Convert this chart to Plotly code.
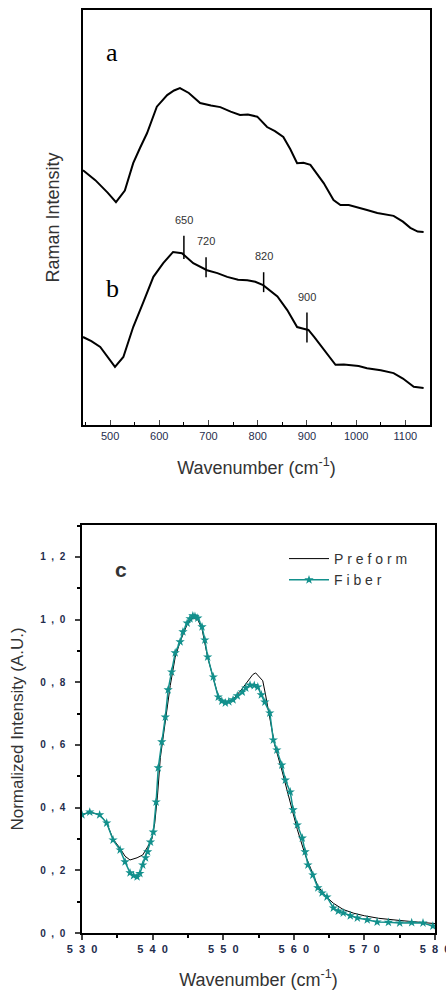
import numpy as np
import plotly.graph_objects as go

# ---------------- Panel a / b : Raman spectra ----------------
wn_a = [445, 470, 495, 512, 530, 547, 561, 575, 595, 616, 630, 642, 660, 683, 705, 724, 745, 764,
        780, 799, 819, 835, 852, 866, 880, 893, 907, 920, 934, 954, 968, 985, 1002, 1022, 1043,
        1060, 1076, 1095, 1110, 1125, 1137]
int_a = [0.614, 0.590, 0.560, 0.537, 0.565, 0.631, 0.668, 0.703, 0.767, 0.795, 0.806, 0.812, 0.800,
         0.776, 0.770, 0.766, 0.755, 0.747, 0.748, 0.743, 0.718, 0.708, 0.694, 0.665, 0.631, 0.632,
         0.627, 0.605, 0.583, 0.542, 0.530, 0.530, 0.525, 0.518, 0.511, 0.508, 0.504, 0.490, 0.475,
         0.466, 0.465]

wn_b = [445, 462, 480, 495, 510, 527, 547, 567, 588, 608, 628, 646, 669, 697, 718, 738, 760, 779,
        795, 811, 825, 840, 860, 880, 893, 903, 915, 927, 947, 958, 975, 988, 1005, 1022, 1050,
        1076, 1095, 1117, 1137]
int_b = [0.212, 0.202, 0.188, 0.165, 0.140, 0.164, 0.236, 0.294, 0.357, 0.390, 0.417, 0.414, 0.390,
         0.373, 0.366, 0.357, 0.350, 0.349, 0.345, 0.337, 0.325, 0.310, 0.277, 0.236, 0.232, 0.229,
         0.212, 0.193, 0.164, 0.145, 0.146, 0.145, 0.142, 0.137, 0.132, 0.125, 0.112, 0.092, 0.089]

peak_pos = [650, 695, 812, 900]
peak_labels = ["650", "720", "820", "900"]
peak_lift = [0.018, 0.006, 0.008, 0.005]
peak_half = [0.028, 0.024, 0.024, 0.036]

# ---------------- Panel c : normalized spectra ----------------
wn_fiber = [530.0, 531.1, 532.5, 533.5, 534.4, 535.4, 536.1, 536.8, 537.3, 537.8, 538.2, 538.6, 539.0,
            539.3, 539.7, 540.1, 540.5, 540.8, 541.3, 541.8, 542.2, 542.7, 543.2, 543.9, 544.3,
            544.9, 545.3, 545.7, 546.0, 546.4, 547.0, 547.4, 547.8, 548.6, 549.3, 549.8, 550.3,
            550.8, 551.4, 552.0, 552.7, 553.2, 553.8, 554.4, 554.9, 555.4, 555.9, 556.6, 557.1,
            557.6, 558.3, 558.8, 559.5, 559.9, 560.5, 561.2, 561.6, 562.0, 562.7, 563.4, 564.0,
            564.7, 565.6, 566.3, 567.0, 568.0, 569.0, 570.4, 571.8, 573.4, 575.0, 576.7, 578.3, 579.7]
int_fiber = [0.377, 0.386, 0.377, 0.351, 0.297, 0.265, 0.227, 0.192, 0.183, 0.179, 0.190, 0.217, 0.240,
             0.259, 0.290, 0.322, 0.418, 0.527, 0.610, 0.689, 0.776, 0.833, 0.894, 0.929, 0.961,
             0.989, 1.003, 1.012, 1.010, 1.005, 0.977, 0.935, 0.881, 0.817, 0.753, 0.740, 0.734,
             0.738, 0.744, 0.757, 0.769, 0.782, 0.791, 0.790, 0.785, 0.760, 0.737, 0.702, 0.616,
             0.584, 0.536, 0.488, 0.450, 0.393, 0.345, 0.303, 0.259, 0.217, 0.185, 0.144, 0.128,
             0.115, 0.080, 0.070, 0.064, 0.055, 0.048, 0.042, 0.035, 0.034, 0.032, 0.033, 0.032, 0.022]

wn_pref = [530.0, 531.1, 532.5, 533.5, 534.4, 535.4, 536.1, 536.8, 537.8, 538.6, 539.3, 539.9, 540.3,
           540.7, 541.1, 541.8, 542.5, 543.2, 543.9, 544.9, 545.7, 546.4, 547.0, 547.8, 548.6,
           549.3, 550.3, 551.4, 552.7, 553.8, 554.2, 554.6, 555.6, 556.0, 556.6, 557.3, 558.3,
           559.5, 560.5, 561.6, 562.7, 563.4, 564.5, 565.6, 567.0, 568.5, 570.0, 572.0, 575.0,
           578.0, 580.0]
int_pref = [0.377, 0.386, 0.377, 0.351, 0.300, 0.270, 0.245, 0.233, 0.240, 0.249, 0.275, 0.300, 0.350,
            0.440, 0.560, 0.680, 0.790, 0.880, 0.930, 0.985, 1.005, 1.000, 0.970, 0.880, 0.810,
            0.755, 0.735, 0.745, 0.780, 0.815, 0.825, 0.830, 0.805, 0.760, 0.690, 0.600, 0.520,
            0.420, 0.330, 0.250, 0.190, 0.150, 0.118, 0.095, 0.075, 0.063, 0.055, 0.047, 0.040,
            0.035, 0.030]

y_ticks_c = [0.0, 0.2, 0.4, 0.6, 0.8, 1.0, 1.2]
y_ticktext_c = ["0,0", "0,2", "0,4", "0,6", "0,8", "1,0", "1,2"]
x_ticks_c = [530, 540, 550, 560, 570, 580]
x_ticks_ab = [500, 600, 700, 800, 900, 1000, 1100]

TEAL = "#12908c"
TXT = "#333333"
TICKTXT = "#1f2d4d"
NB = "\u00a0"

def spaced(s, sep=NB):
    return sep.join(list(s))

fig = go.Figure()
fig.add_trace(go.Scatter(x=wn_a, y=int_a, mode="lines", line=dict(color="black", width=2),
                         xaxis="x", yaxis="y", showlegend=False))
fig.add_trace(go.Scatter(x=wn_b, y=int_b, mode="lines", line=dict(color="black", width=2),
                         xaxis="x", yaxis="y", showlegend=False))
fig.add_trace(go.Scatter(x=wn_pref, y=int_pref, mode="lines", name=spaced("Preform"),
                         line=dict(color="black", width=1), xaxis="x2", yaxis="y2"))
fig.add_trace(go.Scatter(x=wn_fiber, y=int_fiber, mode="lines+markers", name=spaced("Fiber"),
                         line=dict(color=TEAL, width=1.5),
                         marker=dict(symbol="star", size=7, color=TEAL),
                         xaxis="x2", yaxis="y2"))

# peak markers on spectrum b
for pos, lab, lift, h in zip(peak_pos, peak_labels, peak_lift, peak_half):
    yc = float(np.interp(pos, wn_b, int_b)) + lift
    fig.add_shape(type="line", xref="x", yref="y", x0=pos, x1=pos, y0=yc - h, y1=yc + h,
                  line=dict(color="black", width=1.5))
    fig.add_annotation(x=pos, y=yc + h, xref="x", yref="y", text=lab, showarrow=False,
                       yanchor="bottom", yshift=8,
                       font=dict(family="Liberation Sans", size=11, color=TXT))

fig.add_annotation(x=104 / 446, y=1 - 36 / 990, xref="paper", yref="paper", text="a", showarrow=False,
                   font=dict(family="Liberation Serif", size=26, color="black"))
fig.add_annotation(x=104 / 446, y=1 - 272 / 990, xref="paper", yref="paper", text="b", showarrow=False,
                   font=dict(family="Liberation Serif", size=26, color="black"))
fig.add_annotation(x=113 / 446, y=1 - 569 / 990, xref="paper", yref="paper", text="c", showarrow=False,
                   font=dict(family="Liberation Sans", size=21, color=TXT, weight="bold"))

fig.update_layout(
    width=446, height=990,
    margin=dict(l=0, r=0, t=0, b=0, autoexpand=False),
    paper_bgcolor="white", plot_bgcolor="white",
    font=dict(family="Liberation Sans", color=TXT),
    xaxis=dict(domain=[83 / 446, 430 / 446], anchor="y", range=[445, 1150], automargin=False,
               tickvals=x_ticks_ab, ticks="inside", ticklen=5, tickwidth=1.2,
               minor=dict(ticks="inside", ticklen=3, dtick=50, tick0=450, tickcolor="black"),
               showline=True, linecolor="black", linewidth=1.5, mirror=True,
               showgrid=False, zeroline=False,
               tickfont=dict(size=11, color=TICKTXT),
               title=dict(text="Wavenumber (cm<sup>-1</sup>)", standoff=20,
                          font=dict(size=18, color=TXT))),
    yaxis=dict(domain=[1 - 425 / 990, 1 - 10 / 990], anchor="x", range=[0, 1], automargin=False,
               showticklabels=False, ticks="", showline=True, linecolor="black",
               linewidth=1.5, mirror=True, showgrid=False, zeroline=False,
               title=dict(text="Raman Intensity", standoff=17, font=dict(size=18, color=TXT))),
    xaxis2=dict(domain=[82 / 446, 435 / 446], anchor="y2", range=[530, 580], automargin=False,
                tickvals=x_ticks_c, ticktext=[spaced(str(v), NB + NB) for v in x_ticks_c],
                ticks="outside", ticklen=5, tickwidth=1.5, ticklabeloverflow="allow",
                minor=dict(ticks="outside", ticklen=3, dtick=5, tick0=530, tickcolor="black"),
                showline=True, linecolor="black", linewidth=1.5, mirror=True,
                showgrid=False, zeroline=False,
                tickfont=dict(size=11, color=TICKTXT, weight="bold"),
                title=dict(text="Wavenumber (cm<sup>-1</sup>)", standoff=23,
                           font=dict(size=18, color=TXT))),
    yaxis2=dict(domain=[1 - 933 / 990, 1 - 525 / 990], anchor="x2", range=[0, 1.302], automargin=False,
                tickvals=y_ticks_c, ticktext=[spaced(t, NB + NB) for t in y_ticktext_c],
                ticks="outside", ticklen=5, tickwidth=1.5, ticklabelstandoff=8,
                minor=dict(ticks="outside", ticklen=3, dtick=0.1, tick0=0, tickcolor="black"),
                showline=True, linecolor="black", linewidth=1.5, mirror=True,
                showgrid=False, zeroline=False,
                tickfont=dict(size=10, color=TICKTXT, weight="bold"),
                title=dict(text="Normalized Intensity (A.U.)", standoff=12,
                           font=dict(size=17, color=TXT))),
    legend=dict(x=284 / 446, y=1 - 543 / 990, xanchor="left", yanchor="top",
                bgcolor="rgba(0,0,0,0)", itemwidth=40, tracegroupgap=2,
                font=dict(size=14, color=TXT)),
)

fig.write_html("out.html", config={"displayModeBar": False},
               post_script="document.body.style.margin='0px';")
